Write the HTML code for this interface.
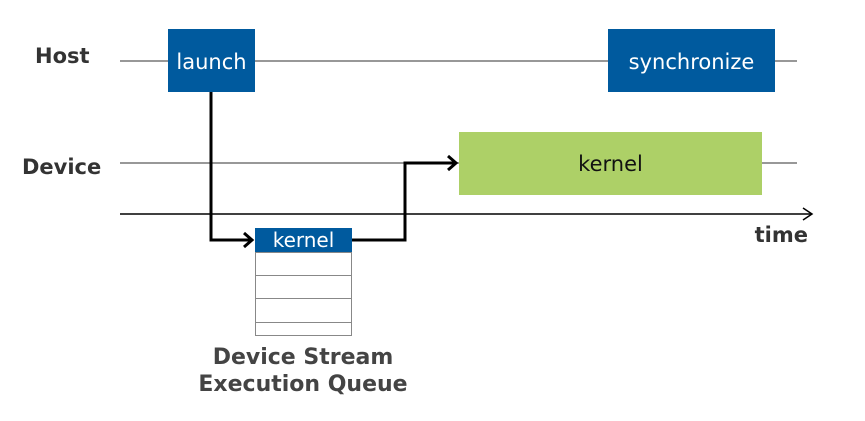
<!DOCTYPE html>
<html><head><style>body{margin:0;background:#fff}svg{display:block}</style></head><body>
<svg width="865" height="421" xmlns="http://www.w3.org/2000/svg" font-family="DejaVu Sans, Liberation Sans, sans-serif">
<g stroke="#777" stroke-width="1.5">
<line x1="120" y1="61" x2="797" y2="61"/>
<line x1="120" y1="163" x2="797" y2="163"/>
</g>
<line x1="120" y1="214" x2="811" y2="214" stroke="#000" stroke-width="1.5"/>
<polyline points="803,208 812,214 803,220" fill="none" stroke="#000" stroke-width="1.5"/>
<g font-weight="bold" font-size="21" fill="#333">
<text x="35" y="63">Host</text>
<text x="22" y="174">Device</text>
<text x="808" y="242" text-anchor="end">time</text>
</g>
<rect x="168" y="29" width="87" height="63" fill="#005a9e"/>
<text x="211.5" y="69" font-size="21" fill="#fff" text-anchor="middle">launch</text>
<rect x="608" y="29" width="167" height="63" fill="#005a9e"/>
<text x="691.5" y="69" font-size="21" fill="#fff" text-anchor="middle">synchronize</text>
<rect x="459" y="132" width="303" height="63" fill="#add067"/>
<text x="610.5" y="171" font-size="21" fill="#111" text-anchor="middle">kernel</text>
<g fill="#fff" stroke="#888" stroke-width="1">
<rect x="255.5" y="252.5" width="96" height="23"/>
<rect x="255.5" y="275.5" width="96" height="23"/>
<rect x="255.5" y="298.5" width="96" height="24"/>
<rect x="255.5" y="322.5" width="96" height="13"/>
</g>
<rect x="255" y="228" width="97" height="24" fill="#005a9e"/>
<text x="303.5" y="247" font-size="20" fill="#fff" text-anchor="middle">kernel</text>
<g fill="none" stroke="#000" stroke-width="3">
<polyline points="211,92 211,240 252,240"/>
<polyline points="244,233 252,240 244,247"/>
<polyline points="352,240 405,240 405,163 456,163"/>
<polyline points="448,156 456,163 448,170"/>
</g>
<g font-weight="bold" font-size="22" fill="#444" text-anchor="middle">
<text x="303" y="364">Device Stream</text>
<text x="303" y="391">Execution Queue</text>
</g>
</svg>
</body></html>
